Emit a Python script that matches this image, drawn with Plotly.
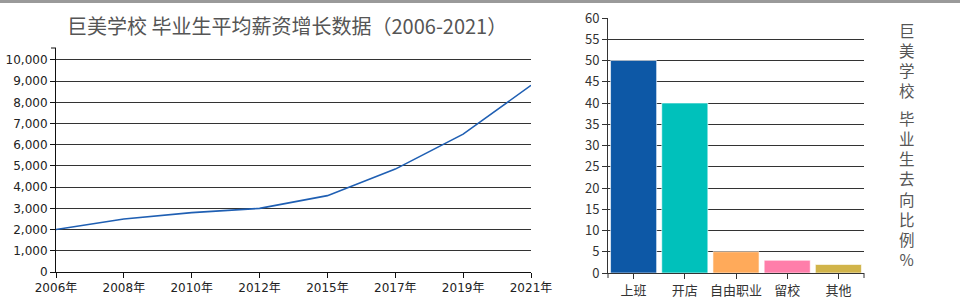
import plotly.graph_objects as go

# ---- data ----
years = ["2006年", "2008年", "2010年", "2012年", "2015年", "2017年", "2019年", "2021年"]
salary = [2000, 2500, 2800, 3000, 3600, 4850, 6500, 8800]

dest_cats = ["上班", "开店", "自由职业", "留校", "其他"]
dest_vals = [50, 40, 5, 3, 2]
dest_colors = ["#0d58a6", "#00c1bb", "#ffaa5a", "#ff7eaa", "#d1b44a"]

left_title = "巨美学校 毕业生平均薪资增长数据（2006-2021）"
right_title_parts = ["巨美学校", "毕业生去向比例%"]

W, H = 960, 300
def px_x(x):
    return x / W
def px_y(y):
    return 1 - y / H

fig = go.Figure()

fig.add_trace(go.Scatter(
    x=years, y=salary, mode="lines",
    line=dict(color="#1f5fb3", width=1.6),
    xaxis="x", yaxis="y", showlegend=False, hoverinfo="skip"))

fig.add_trace(go.Bar(
    x=dest_cats, y=dest_vals,
    marker=dict(color=dest_colors, line=dict(color="rgba(255,255,255,0.6)", width=1)),
    xaxis="x2", yaxis="y2", showlegend=False, hoverinfo="skip"))

tickfont_l = dict(family="DejaVu Sans, Noto Sans CJK SC", size=12, color="#222")
tickfont_r = dict(family="Noto Sans CJK SC", size=13, color="#333")

fig.update_layout(
    width=W, height=H, autosize=False,
    margin=dict(l=0, r=0, t=0, b=0, pad=0, autoexpand=False),
    paper_bgcolor="white", plot_bgcolor="white",
    showlegend=False,
    bargap=0.1,
    xaxis=dict(domain=[px_x(56), px_x(531)], type="category", range=[0, 7],
               showline=True, linecolor="#111", linewidth=1,
               ticks="outside", ticklen=5, tickcolor="#111", automargin=False,
               showgrid=False, zeroline=False, tickfont=tickfont_l, anchor="y"),
    yaxis=dict(domain=[px_y(272), px_y(48)], range=[0, 10560], dtick=1000,
               tickformat=",d", automargin=False,
               showline=True, linecolor="#111", linewidth=1,
               ticks="outside", ticklen=5, tickcolor="#111",
               showgrid=True, gridcolor="#333", gridwidth=1,
               zeroline=False, tickfont=tickfont_l, anchor="x"),
    xaxis2=dict(domain=[px_x(608), px_x(864)], type="category", automargin=False,
                showline=True, linecolor="#333", linewidth=1,
                ticks="outside", ticklen=5, tickcolor="#333",
                showgrid=False, zeroline=False, tickfont=tickfont_r, anchor="y2"),
    yaxis2=dict(domain=[px_y(273), px_y(18)], range=[0, 60], dtick=5, automargin=False,
                showline=True, linecolor="#333", linewidth=1,
                ticks="outside", ticklen=5, tickcolor="#333",
                showgrid=True, gridcolor="#333", gridwidth=1,
                zeroline=False, tickfont=tickfont_r, anchor="x2"),
)

shapes = [
    dict(type="rect", xref="paper", yref="paper", x0=0, x1=1, y0=px_y(3), y1=1,
         fillcolor="#9a9a9a", line=dict(width=0), layer="above"),
    dict(type="line", xref="paper", yref="paper", x0=px_x(51), x1=px_x(56),
         y0=px_y(48), y1=px_y(48), line=dict(color="#111", width=1)),
    dict(type="line", xref="paper", yref="paper", x0=px_x(608), x1=px_x(608),
         y0=px_y(273), y1=px_y(278), line=dict(color="#333", width=1)),
    dict(type="line", xref="paper", yref="paper", x0=px_x(864), x1=px_x(864),
         y0=px_y(273), y1=px_y(278), line=dict(color="#333", width=1)),
]
fig.update_layout(shapes=shapes)

annotations = [
    dict(text=left_title, xref="paper", yref="paper", x=px_x(287), y=px_y(25),
         xanchor="center", yanchor="middle", showarrow=False,
         font=dict(family="Noto Sans CJK SC", size=20, color="#555")),
]
vsize = 15.5
annotations.append(dict(text="<br>".join(right_title_parts[0]), xref="paper", yref="paper",
                        x=px_x(907), y=px_y(17), xanchor="center", yanchor="top",
                        showarrow=False,
                        font=dict(family="Noto Sans CJK SC", size=vsize, color="#555")))
annotations.append(dict(text="<br>".join(right_title_parts[1]), xref="paper", yref="paper",
                        x=px_x(907), y=px_y(272), xanchor="center", yanchor="bottom",
                        showarrow=False,
                        font=dict(family="Noto Sans CJK SC", size=vsize, color="#555")))
fig.update_layout(annotations=annotations)

fig.write_html("out.html", post_script="document.body.style.margin='0';")
